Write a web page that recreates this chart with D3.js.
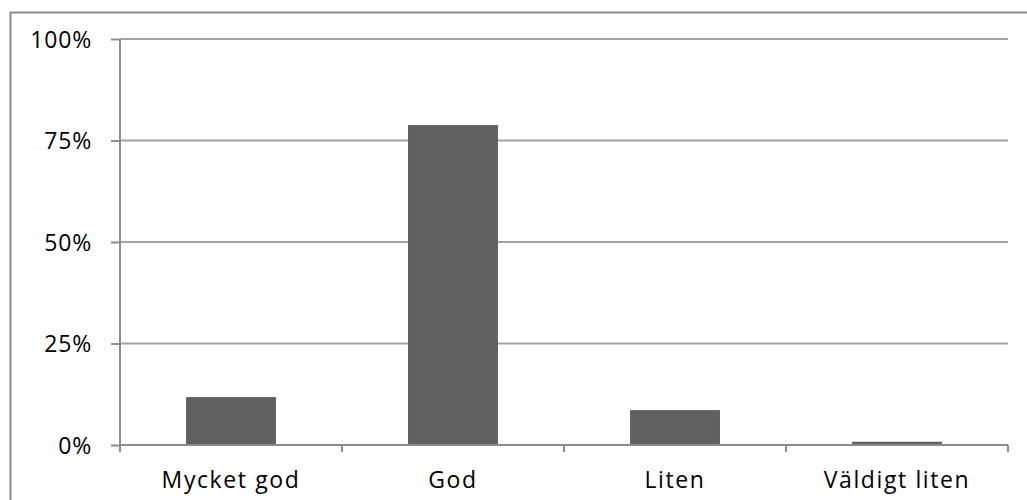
<!DOCTYPE html>
<html>
<head>
<meta charset="utf-8">
<script src="https://cdn.jsdelivr.net/npm/d3@7"></script>
<style>
  html, body { margin: 0; padding: 0; background: #fff; overflow: hidden; }
  svg { display: block; }
  text { font-family: "Open Sans", "Noto Sans", sans-serif; font-size: 23px; fill: #000; }
</style>
</head>
<body>
<svg id="chart" width="1027" height="500"></svg>
<script>
// Answer categories and their share of responses
const categories = ["Mycket god", "God", "Liten", "Väldigt liten"];
const shares = [0.118, 0.788, 0.086, 0.008];
const yTicks = [0, 0.25, 0.5, 0.75, 1];

const svg = d3.select("#chart");
const margin = { left: 120, top: 39, right: 1008, bottom: 445 };

// Outer chart frame (runs past the right and bottom edges)
svg.append("rect")
  .attr("x", 10.5).attr("y", 12.5)
  .attr("width", 1030).attr("height", 520)
  .attr("fill", "none").attr("stroke", "#8c8c8c").attr("stroke-width", 2);

const x = d3.scaleBand()
  .domain(categories)
  .range([margin.left, margin.right])
  .paddingInner(0.595)
  .paddingOuter(0.2975);

const y = d3.scaleLinear()
  .domain([0, 1])
  .range([margin.bottom, margin.top]);

// Horizontal gridlines
svg.append("g")
  .selectAll("line")
  .data(yTicks.filter(d => d > 0))
  .join("line")
  .attr("x1", margin.left).attr("x2", margin.right)
  .attr("y1", d => y(d)).attr("y2", d => y(d))
  .attr("stroke", "#a3a3a3").attr("stroke-width", 2);

// Y axis
const yAxis = svg.append("g")
  .attr("transform", `translate(${margin.left},0)`)
  .call(d3.axisLeft(y).tickValues(yTicks).tickFormat(d3.format(".0%")).tickSize(9).tickPadding(19));
yAxis.attr("font-size", null).attr("font-family", null);
yAxis.select(".domain").attr("stroke", "#8c8c8c").attr("stroke-width", 2)
  .attr("d", `M0,${margin.top}V${margin.bottom + 6}`);
yAxis.selectAll(".tick line").attr("stroke", "#8c8c8c").attr("stroke-width", 2);
yAxis.selectAll(".tick text")
  .style("letter-spacing", "0.8px")
  .attr("fill", "#000").attr("dy", "0.36em");

// Bars
svg.append("g")
  .selectAll("rect")
  .data(categories.map((c, i) => ({ c, v: shares[i] })))
  .join("rect")
  .attr("x", d => x(d.c))
  .attr("width", x.bandwidth())
  .attr("y", d => y(d.v))
  .attr("height", d => y(0) - y(d.v))
  .attr("fill", "#606060");

// X axis with category boundary ticks
const xg = svg.append("g");
xg.append("line")
  .attr("x1", margin.left).attr("x2", margin.right)
  .attr("y1", y(0)).attr("y2", y(0))
  .attr("stroke", "#8c8c8c").attr("stroke-width", 2);
const boundaries = categories.map(c => x(c) - x.step() * x.paddingOuter()).concat([margin.right]);
xg.selectAll("line.b")
  .data(boundaries)
  .join("line")
  .attr("class", "b")
  .attr("x1", d => d).attr("x2", d => d)
  .attr("y1", y(0)).attr("y2", y(0) + 7)
  .attr("stroke", "#8c8c8c").attr("stroke-width", 2);
xg.selectAll("text.cat")
  .data(categories)
  .join("text")
  .attr("class", "cat")
  .attr("x", d => x(d) + x.bandwidth() / 2)
  .attr("y", 488)
  .attr("text-anchor", "middle")
  .style("letter-spacing", "1.6px")
  .text(d => d);
</script>
</body>
</html>
